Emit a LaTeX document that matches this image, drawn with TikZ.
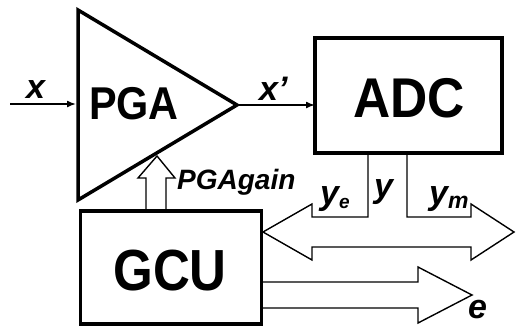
\documentclass[tikz,border=0pt]{standalone}
\usepackage{fontspec}
\setmainfont{Liberation Sans}
\usetikzlibrary{arrows.meta,calc}
\begin{document}
\begin{tikzpicture}[x=1pt,y=-1pt,
  thickbox/.style={draw, line width=3.5pt, inner sep=0pt, outer sep=0pt},
  sig/.style={line width=1.5pt, -{Latex[length=9pt,width=7pt]}},
  blockarrow/.style={draw, line width=1.4pt, line join=miter},
  bigtext/.style={font=\fontsize{#1}{#1}\selectfont\bfseries, inner sep=0pt},
  lbl/.style={font=\fontsize{34}{40}\selectfont\bfseries\itshape, inner sep=0pt, anchor=base west},
]
\useasboundingbox (0,0) rectangle (516,327);
% PGA triangle
\coordinate (tl) at (78,10);
\coordinate (tb) at (78,200);
\coordinate (tap) at (237,105);
\draw[line width=3.5pt, line join=miter] (tl) -- (tap) -- (tb) -- cycle;
\node[bigtext=46] (pgat) at (134,104) {\scalebox{0.9}[1]{PGA}};
% boxes
\node[thickbox, minimum width=187pt, minimum height=115pt] (adc) at (408.5,95.5) {};
\node[bigtext=56] (adct) at (409,98) {\scalebox{0.92}[1]{ADC}};
\node[thickbox, minimum width=181pt, minimum height=113pt] (gcu) at (171,267.5) {};
\node[bigtext=58] (gcut) at (170,271) {\scalebox{0.88}[1]{GCU}};
% signal arrows
\coordinate (xin) at (10,104);
\coordinate (pgain) at (76,104);
\draw[sig] (xin) -- (pgain);
\draw[sig] (tap) -- (adc.west |- tap);
% PGAgain block arrow
\coordinate (ga) at (146,210);
\coordinate (gb) at (166,210);
\draw[blockarrow] (ga) -- (146,178) -- (138,178) -- (157,156) -- (175,178) -- (166,178) -- (gb);
% double block arrow with y lines
\coordinate (dl) at (263,232);
\coordinate (dr) at (514,232);
\draw[blockarrow] (368,153) -- (368,217) -- (312,217) -- (312,204) -- (dl) -- (312,260) -- (312,247)
  -- (471,247) -- (471,260) -- (dr) -- (471,204) -- (471,217) -- (407,217) -- (407,153);
% e block arrow
\coordinate (ea) at (263,282);
\coordinate (eb) at (263,308);
\coordinate (etip) at (472,295);
\draw[blockarrow] (ea) -- (418,282) -- (418,267) -- (etip) -- (418,323) -- (418,308) -- (eb);
% labels
\node[lbl] (lx) at (26,98) {x};
\node[lbl] (lxp) at (259,100) {x'};
\node[lbl, font=\fontsize{28}{30}\selectfont\bfseries\itshape] (lgain) at (177,189) {PGAgain};
\node[lbl] (lye) at (320,204) {y{\fontsize{19}{20}\selectfont\raisebox{-4pt}{e}}};
\node[lbl] (ly) at (374,197) {y};
\node[lbl] (lym) at (429,204) {y{\fontsize{23}{24}\selectfont\raisebox{-4pt}{m}}};
\node[lbl] (le) at (468,318) {e};
\end{tikzpicture}
\end{document}
